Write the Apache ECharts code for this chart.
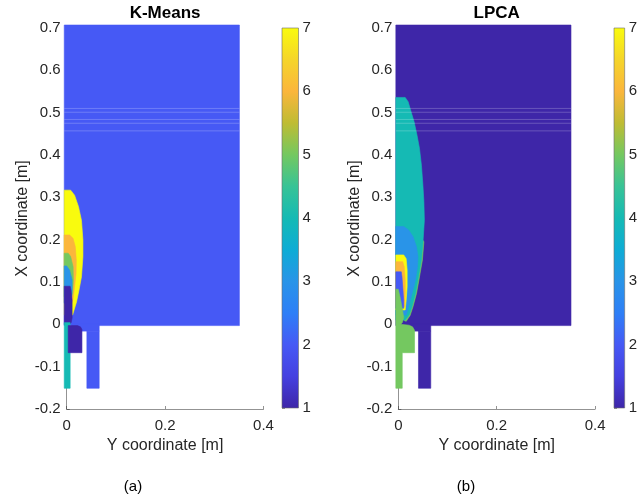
<!DOCTYPE html>
<html><head><meta charset="utf-8">
<script src="https://cdn.jsdelivr.net/npm/echarts@6/dist/echarts.min.js"></script>
<style>html,body{margin:0;padding:0;background:#fff}#c{width:640px;height:499px}</style>
</head><body><div id="c"></div>
<script>
// ---------- data ----------
const xTickValues = [0, 0.2, 0.4];
const yRange = [-0.2, 0.7];
const cbTicks = [1, 2, 3, 4, 5, 6, 7];
const panelTitles = ['K-Means', 'LPCA'];
const panelTags = ['(a)', '(b)'];
const xAxisTitle = 'Y coordinate [m]';
const yAxisTitle = 'X coordinate [m]';
// parula colour map, stops every 0.5 from 1 to 7
const parula = ['#3E26A8','#4540E0','#4659F5','#2E7FF7','#2994E8','#0EACD5','#15BAB4','#38C396','#74C860','#BFBC33','#FBB63C','#F5D52A','#F9FB0E'];

// mesh domain pieces (x = Y coordinate, y = X coordinate), visible extents
const domMain  = [[-0.005,-0.003],[0.351,-0.003],[0.351,0.707],[-0.005,0.707]];
const domLip   = [[0.010,-0.016],[0.066,-0.016],[0.066,0.0],[0.010,0.0]];
const domOuter = [[0.041,-0.151],[0.066,-0.151],[0.066,-0.016],[0.041,-0.016]];
// faint rows of the mesh
const gapRows = [0.510, 0.501, 0.484, 0.475, 0.457];

// K-Means cluster regions
const kmYellow = [[-0.005,0.317],[0.008,0.317],[0.016,0.305],[0.024,0.278],[0.030,0.246],[0.033,0.199],[0.033,0.160],[0.030,0.112],[0.025,0.081],[0.020,0.053],[0.015,0.034],[0.012,0.022],[-0.005,0.022]];
const kmOrange = [[-0.005,0.211],[0.006,0.211],[0.013,0.203],[0.0175,0.183],[0.0195,0.152],[0.019,0.120],[0.016,0.089],[0.013,0.060],[0.011,0.052],[-0.005,0.052]];
const kmGreen  = [[-0.005,0.168],[0.003,0.168],[0.008,0.160],[0.013,0.136],[0.0135,0.105],[0.012,0.073],[0.010,0.065],[-0.005,0.065]];
const kmLight  = [[-0.005,0.138],[0.000,0.138],[0.006,0.128],[0.011,0.105],[0.011,0.081],[0.009,0.057],[0.007,0.050],[-0.005,0.050]];
const kmDark   = [[-0.005,0.090],[0.007,0.090],[0.009,0.080],[0.011,0.057],[0.011,0.015],[0.009,0.004],[0.005,-0.001],[-0.005,-0.001]];
const kmInlet  = [[-0.005,0.004],[0.007,0.004],[0.007,-0.151],[-0.005,-0.151]];
const kmBlock  = [[0.003,-0.003],[0.022,-0.003],[0.028,-0.006],[0.031,-0.012],[0.031,-0.067],[0.003,-0.067]];
const kmRegions = [[domMain,2],[domLip,2],[domOuter,2],[kmYellow,7],[kmOrange,6],[kmGreen,5],[kmLight,3],[kmDark,1],[kmInlet,4],[kmBlock,1]];

// LPCA cluster regions
const lpEdge   = [[0.046,0.205],[0.052,0.195],[0.049,0.152],[0.043,0.112],[0.037,0.073],[0.030,0.042],[0.024,0.021],[0.016,0.007],[0.012,0.009],[0.030,0.100]];
const lpTeal   = [[-0.005,0.536],[0.014,0.536],[0.020,0.526],[0.026,0.502],[0.032,0.479],[0.038,0.447],[0.043,0.416],[0.047,0.376],[0.050,0.329],[0.052,0.290],[0.053,0.246],[0.050,0.191],[0.047,0.152],[0.041,0.112],[0.035,0.073],[0.028,0.042],[0.022,0.022],[0.014,0.010],[-0.005,0.010]];
const lpLight  = [[-0.005,0.231],[0.011,0.231],[0.021,0.223],[0.030,0.207],[0.037,0.183],[0.040,0.160],[0.039,0.136],[0.035,0.105],[0.028,0.073],[0.021,0.042],[0.016,0.022],[-0.005,0.022]];
const lpYellow = [[-0.005,0.164],[0.011,0.164],[0.016,0.155],[0.018,0.128],[0.018,0.089],[0.016,0.057],[0.014,0.034],[-0.005,0.034]];
const lpOrange = [[-0.005,0.148],[0.009,0.148],[0.012,0.136],[0.014,0.105],[0.014,0.073],[0.013,0.042],[-0.005,0.042]];
const lpBlue   = [[-0.005,0.124],[0.006,0.124],[0.0075,0.112],[0.0095,0.081],[0.011,0.057],[0.011,0.038],[-0.005,0.038]];
const lpGreen  = [[-0.005,0.083],[0.0,0.083],[0.004,0.062],[0.008,0.038],[0.011,0.016],[0.008,0.004],[0.005,0.0],[0.022,-0.002],[0.029,-0.006],[0.033,-0.014],[0.033,-0.067],[0.008,-0.067],[0.008,-0.151],[-0.005,-0.151]];
const lpRegions = [[domMain,1],[domLip,1],[domOuter,1],[lpEdge,5],[lpTeal,4],[lpLight,3],[lpYellow,7],[lpOrange,6],[lpBlue,2],[lpGreen,5]];

// ---------- chart ----------
const FONT = 'Liberation Sans, Arial, Helvetica, sans-serif';
const TXT = '#262626';
const chart = echarts.init(document.getElementById('c'), null, {renderer: 'canvas'});

const plotGrids = [
  {left: 66.7, top: 28, width: 196.8, height: 381},
  {left: 398.3, top: 28, width: 196.8, height: 381}
];
const cbGrids = [
  {left: 282, top: 28, width: 16.5, height: 380},
  {left: 614, top: 28, width: 16.5, height: 380}
];
const fmt = v => String(parseFloat(Number(v).toFixed(3)));

function plotX(i) {
  return {
    gridIndex: i, type: 'value', min: xTickValues[0], max: xTickValues[xTickValues.length-1],
    interval: xTickValues[1] - xTickValues[0],
    name: xAxisTitle, nameLocation: 'middle', nameGap: 27,
    nameTextStyle: {fontSize: 16, color: TXT, fontFamily: FONT},
    axisLine: {show: true, onZero: false, lineStyle: {color: TXT, width: 0.5}},
    axisTick: {show: true, inside: true, length: 3, lineStyle: {color: TXT, width: 0.5}},
    axisLabel: {fontSize: 15, color: TXT, fontFamily: FONT, margin: 9, formatter: fmt},
    splitLine: {show: false}
  };
}
function plotY(i) {
  return {
    gridIndex: i, type: 'value', min: yRange[0], max: yRange[1], interval: 0.1,
    name: yAxisTitle, nameLocation: 'middle', nameGap: 36, nameRotate: 90,
    nameTextStyle: {fontSize: 16, color: TXT, fontFamily: FONT},
    axisLine: {show: true, onZero: false, lineStyle: {color: TXT, width: 0.5}},
    axisTick: {show: true, inside: true, length: 3, lineStyle: {color: TXT, width: 0.5}},
    axisLabel: {fontSize: 15, color: TXT, fontFamily: FONT, margin: 6, formatter: fmt},
    splitLine: {show: false}
  };
}
function cbX(i) {
  return {gridIndex: i, type: 'value', min: 0, max: 1, show: false};
}
function cbY(i) {
  return {
    gridIndex: i, type: 'value', position: 'right', min: cbTicks[0], max: cbTicks[cbTicks.length-1], interval: 1,
    axisLine: {show: false},
    axisTick: {show: true, inside: false, length: 3, lineStyle: {color: TXT, width: 0.5}},
    axisLabel: {fontSize: 15, color: TXT, fontFamily: FONT, margin: 4},
    splitLine: {show: false}
  };
}

function regionSeries(idx, regions) {
  return {
    type: 'custom', xAxisIndex: idx, yAxisIndex: idx, silent: true, animation: false,
    clip: false,
    data: regions.map((r, i) => [i, r[1]]),
    encode: {x: 0, y: 1},
    renderItem: function (params, api) {
      const reg = regions[api.value(0)];
      const pts = reg[0].map(p => api.coord(p));
      const c = api.visual('color');
      return {type: 'polygon', shape: {points: pts}, style: {fill: c, stroke: c, lineWidth: 0.6}};
    }
  };
}
function gapSeries(idx) {
  return {
    type: 'custom', xAxisIndex: idx, yAxisIndex: idx, silent: true, animation: false, z: 3,
    data: gapRows.map(y => [y]),
    encode: {y: 0},
    renderItem: function (params, api) {
      const y = api.value(0);
      const a = api.coord([domMain[0][0], y]);
      const b = api.coord([domMain[1][0], y]);
      return {type: 'line', shape: {x1: a[0], y1: a[1], x2: b[0], y2: b[1]},
        style: {stroke: 'rgba(255,255,255,0.22)', lineWidth: 1}};
    }
  };
}
function colorbarSeries(idx) {
  const stops = parula.map((c, i) => ({offset: i / (parula.length - 1), color: c}));
  return {
    type: 'custom', xAxisIndex: idx, yAxisIndex: idx, silent: true, animation: false,
    data: [[0, cbTicks[0]]],
    renderItem: function (params, api) {
      const p0 = api.coord([0, cbTicks[0]]);
      const p1 = api.coord([1, cbTicks[cbTicks.length-1]]);
      return {type: 'rect', shape: {x: p0[0], y: p1[1], width: p1[0]-p0[0], height: p0[1]-p1[1]},
        style: {fill: new echarts.graphic.LinearGradient(0, 1, 0, 0, stops), stroke: '#6b6b6b', lineWidth: 0.6}};
    }
  };
}

chart.setOption({
  animation: false,
  backgroundColor: '#ffffff',
  title: panelTitles.map((t, i) => ({
    text: t, left: plotGrids[i].left + plotGrids[i].width / 2, top: 5, textAlign: 'center', padding: 0,
    textStyle: {fontSize: 17, fontWeight: 'bold', color: '#000', fontFamily: FONT}
  })),
  grid: [...plotGrids, ...cbGrids],
  xAxis: [plotX(0), plotX(1), cbX(2), cbX(3)],
  yAxis: [plotY(0), plotY(1), cbY(2), cbY(3)],
  visualMap: {
    type: 'continuous', show: false, min: cbTicks[0], max: cbTicks[cbTicks.length-1],
    dimension: 1, seriesIndex: [0, 1], inRange: {color: parula}
  },
  series: [regionSeries(0, kmRegions), regionSeries(1, lpRegions), gapSeries(0), gapSeries(1), colorbarSeries(2), colorbarSeries(3)],
  graphic: panelTags.map((t, i) => ({
    type: 'text', x: [133, 466][i], y: 487,
    style: {text: t, font: '15px ' + FONT, fill: '#000', align: 'center', verticalAlign: 'middle'}
  }))
});
</script></body></html>
